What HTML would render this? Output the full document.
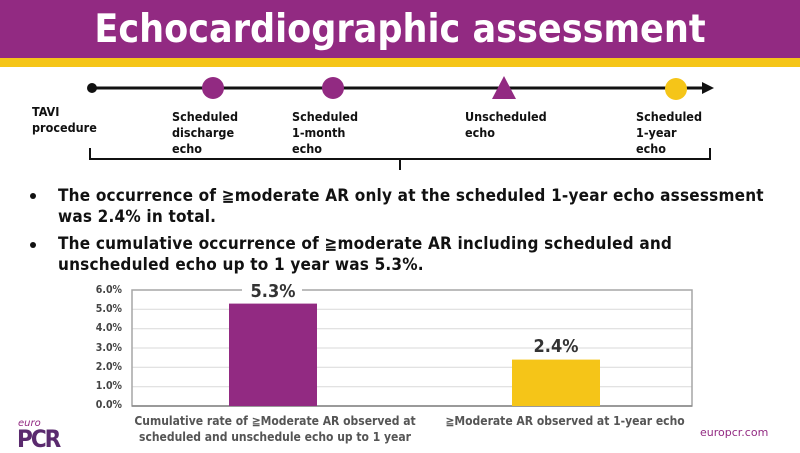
<!DOCTYPE html>
<html><head><meta charset="utf-8"><style>
body{margin:0;width:800px;height:450px;overflow:hidden;background:#fff;font-family:"DejaVu Sans","Liberation Sans",sans-serif;position:relative}
.a{position:absolute}
.lbl{font-weight:bold;font-size:12.5px;line-height:16px;color:#111;font-family:"DejaVu Sans Condensed","DejaVu Sans",sans-serif}
.b{font-weight:bold;font-size:17px;line-height:21px;color:#111;font-family:"DejaVu Sans Condensed","DejaVu Sans",sans-serif;letter-spacing:0.2px}
.yt{font-weight:bold;font-size:10.5px;color:#444;width:40px;text-align:right;font-family:"DejaVu Sans Condensed","DejaVu Sans",sans-serif}
.dot{width:6px;height:6px;border-radius:50%;background:#111}
</style></head><body>
<div class="a" style="left:0;top:0;width:800px;height:58px;background:#922a82"></div>
<div class="a" style="left:0;top:58px;width:800px;height:9px;background:#f5c518"></div>
<div class="a" style="left:0;top:2px;width:800px;text-align:center;color:#fff;font-weight:bold;font-size:39px;line-height:56px;font-family:'DejaVu Sans Condensed','DejaVu Sans',sans-serif">Echocardiographic assessment</div>
<svg class="a" style="left:0;top:0" width="800" height="450">
<line x1="92" y1="88" x2="705" y2="88" stroke="#111" stroke-width="3"/>
<polygon points="714,88 702,82 702,94" fill="#111"/>
<circle cx="92" cy="88" r="5" fill="#111"/>
<circle cx="213" cy="88" r="11" fill="#922a82"/>
<circle cx="333" cy="88" r="11" fill="#922a82"/>
<polygon points="504,76 492,99 516,99" fill="#922a82"/>
<circle cx="676" cy="89" r="11" fill="#f5c518"/>
<path d="M90,148 V159 H710 V148 M400,159 V170" fill="none" stroke="#111" stroke-width="2"/>
<g stroke="#d9d9d9" stroke-width="1">
<line x1="132" y1="386.7" x2="692" y2="386.7"/><line x1="132" y1="367.3" x2="692" y2="367.3"/>
<line x1="132" y1="348" x2="692" y2="348"/><line x1="132" y1="328.7" x2="692" y2="328.7"/>
<line x1="132" y1="309.3" x2="692" y2="309.3"/>
</g>
<rect x="132" y="290" width="560" height="116" fill="none" stroke="#a6a6a6" stroke-width="1.5"/>
<line x1="132" y1="406" x2="692" y2="406" stroke="#888" stroke-width="1.5"/>
<rect x="229" y="303.6" width="88" height="102.4" fill="#922a82"/>
<rect x="512" y="359.6" width="88" height="46.4" fill="#f5c518"/>
<rect x="242" y="280" width="60" height="20" fill="#fff"/>
</svg>
<div class="a lbl" style="left:32px;top:104px">TAVI<br>procedure</div>
<div class="a lbl" style="left:172px;top:109px">Scheduled<br>discharge<br>echo</div>
<div class="a lbl" style="left:292px;top:109px">Scheduled<br>1-month<br>echo</div>
<div class="a lbl" style="left:465px;top:109px">Unscheduled<br>echo</div>
<div class="a lbl" style="left:636px;top:109px">Scheduled<br>1-year<br>echo</div>
<div class="a dot" style="left:30px;top:193px"></div>
<div class="a b" style="left:58px;top:186px;width:720px">The occurrence of ≧moderate AR only at the scheduled 1-year echo assessment was 2.4% in total.</div>
<div class="a dot" style="left:30px;top:242px"></div>
<div class="a b" style="left:58px;top:234px;width:720px">The cumulative occurrence of ≧moderate AR including scheduled and unscheduled echo up to 1 year was 5.3%.</div>
<div class="a yt" style="left:82px;top:284px">6.0%</div>
<div class="a yt" style="left:82px;top:303px">5.0%</div>
<div class="a yt" style="left:82px;top:322px">4.0%</div>
<div class="a yt" style="left:82px;top:342px">3.0%</div>
<div class="a yt" style="left:82px;top:361px">2.0%</div>
<div class="a yt" style="left:82px;top:380px">1.0%</div>
<div class="a yt" style="left:82px;top:399px">0.0%</div>
<div class="a" style="left:229px;top:281px;width:88px;text-align:center;font-weight:bold;font-size:18px;color:#333;font-family:'DejaVu Sans Condensed','DejaVu Sans',sans-serif">5.3%</div>
<div class="a" style="left:512px;top:336px;width:88px;text-align:center;font-weight:bold;font-size:18px;color:#333;font-family:'DejaVu Sans Condensed','DejaVu Sans',sans-serif">2.4%</div>
<div class="a" style="left:120px;top:413px;width:310px;text-align:center;font-weight:bold;font-size:12px;line-height:16px;color:#555;font-family:'DejaVu Sans Condensed','DejaVu Sans',sans-serif">Cumulative rate of ≧Moderate AR observed at scheduled and unschedule echo up to 1 year</div>
<div class="a" style="left:420px;top:413px;width:290px;text-align:center;font-weight:bold;font-size:12px;line-height:16px;color:#555;font-family:'DejaVu Sans Condensed','DejaVu Sans',sans-serif">≧Moderate AR observed at 1-year echo</div>
<div class="a" style="left:18px;top:418px;font-style:italic;font-size:10px;color:#922a82">euro</div>
<div class="a" style="left:17px;top:425px;font-weight:bold;font-size:24px;color:#5a2a6e;letter-spacing:-2px;font-family:'DejaVu Sans Condensed',sans-serif">PCR</div>
<div class="a" style="left:700px;top:426px;font-size:11px;color:#922a82">europcr.com</div>
</body></html>
